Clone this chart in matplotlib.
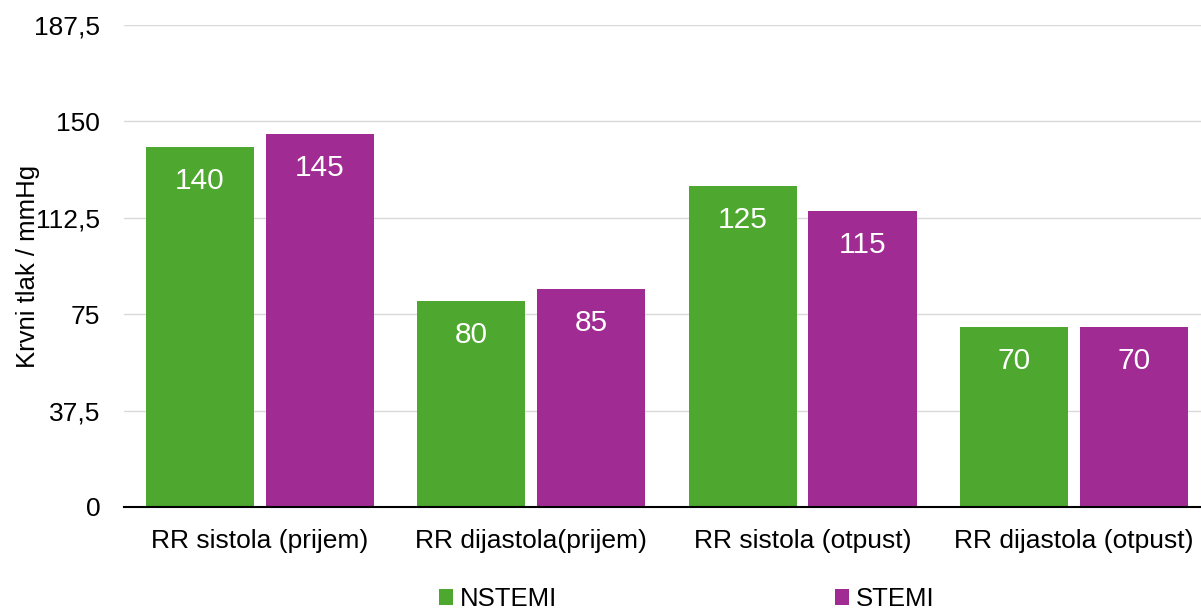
import matplotlib
matplotlib.use("Agg")
import matplotlib.pyplot as plt
import numpy as np

plt.rcParams['font.family'] = ['Liberation Sans', 'DejaVu Sans']

categories = ["RR sistola (prijem)", "RR dijastola(prijem)", "RR sistola (otpust)", "RR dijastola (otpust)"]
series_names = ["NSTEMI", "STEMI"]
nstemi = [140, 80, 125, 70]
stemi = [145, 85, 115, 70]
yticks = [0, 37.5, 75, 112.5, 150, 187.5]
ytick_labels = ["0", "37,5", "75", "112,5", "150", "187,5"]
colors = ["#4EA72E", "#A02B93"]

fig = plt.figure(figsize=(12.01, 6.10), dpi=100)
ax = fig.add_axes([0.1032, 0.1689, 0.904, 0.790])

x = np.arange(len(categories))
w = 0.398
off = 0.221
bars1 = ax.bar(x - off, nstemi, w, color=colors[0], label=series_names[0], zorder=2)
bars2 = ax.bar(x + off, stemi, w, color=colors[1], label=series_names[1], zorder=2)

for bars, vals in ((bars1, nstemi), (bars2, stemi)):
    for b, v in zip(bars, vals):
        ax.annotate(f"{v}", (b.get_x() + b.get_width() / 2, v), xytext=(0, -24.5),
                    textcoords="offset points", ha="center", va="center",
                    color="white", fontsize=21.5, zorder=3)

ax.set_xlim(-0.5, len(categories) - 0.5)
ax.set_ylim(0, 187.5)
ax.set_yticks(yticks)
ax.set_yticklabels(ytick_labels)
ax.set_xticks(x)
ax.set_xticklabels(categories)
ax.tick_params(axis='y', length=0, pad=17, labelsize=19)
ax.tick_params(axis='x', length=0, pad=16, labelsize=19)
ax.grid(axis='y', color="#D9D9D9", linewidth=1.0, zorder=0)
ax.set_axisbelow(True)
for s in ("top", "right", "left"):
    ax.spines[s].set_visible(False)
ax.spines["bottom"].set_color("black")
ax.spines["bottom"].set_linewidth(1.5)
ax.spines["bottom"].set_zorder(4)

ax.set_ylabel("Krvni tlak / mmHg", fontsize=18.5)
ax.yaxis.set_label_coords(-0.077, 0.5)

leg = fig.legend(loc="center", bbox_to_anchor=(0.572, 1 - 599 / 610), ncol=2,
                 frameon=False, fontsize=18.5, handlelength=0.545, handleheight=0.545,
                 handletextpad=0.27, columnspacing=10.8, borderaxespad=0, borderpad=0)

fig.savefig("out.png", dpi=100)
